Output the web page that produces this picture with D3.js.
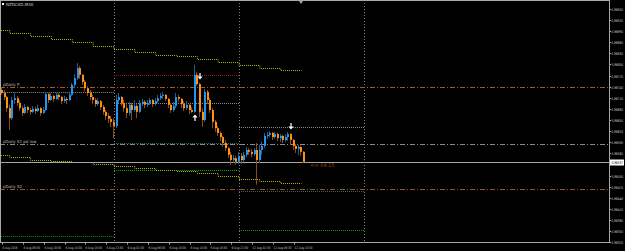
<!DOCTYPE html>
<html>
<head>
<meta charset="utf-8">
<script src="https://cdn.jsdelivr.net/npm/d3@7"></script>
<style>
html, body { margin: 0; padding: 0; background: #000; }
svg { display: block; }
text { font-family: "DejaVu Sans", sans-serif; }
</style>
</head>
<body>
<div id="chart"></div>
<script>
// NZDCAD M30 - bars numbered from 8 Aug 02:00 (bar 0), 30 min each
var symbol = "NZDCAD,M30";
var firstBar = 1;
var firstOpen = 0.86731;
var closes = [0.86723,0.86712,0.86682,0.86655,0.86704,0.86709,0.86696,0.86682,0.86669,0.86685,
  0.86677,0.86672,0.86680,0.86674,0.86682,0.86669,0.86677,0.86720,0.86704,0.86715,
  0.86707,0.86718,0.86712,0.86701,0.86707,0.86704,0.86718,0.86745,0.86763,0.86790,
  0.86772,0.86753,0.86736,0.86723,0.86712,0.86704,0.86693,0.86701,0.86685,0.86672,
  0.86661,0.86653,0.86645,0.86634,0.86704,0.86712,0.86696,0.86682,0.86669,0.86691,
  0.86677,0.86688,0.86672,0.86693,0.86699,0.86691,0.86696,0.86704,0.86693,0.86701,
  0.86709,0.86715,0.86718,0.86707,0.86691,0.86677,0.86688,0.86712,0.86707,0.86693,
  0.86682,0.86691,0.86677,0.86672,0.86772,0.86747,0.86672,0.86650,0.86726,0.86704,
  0.86677,0.86645,0.86628,0.86615,0.86604,0.86588,0.86574,0.86556,0.86542,0.86547,
  0.86537,0.86553,0.86542,0.86556,0.86569,0.86564,0.86558,0.86569,0.86542,0.86569,
  0.86580,0.86607,0.86610,0.86615,0.86604,0.86612,0.86601,0.86607,0.86596,0.86604,
  0.86612,0.86596,0.86580,0.86572,0.86577,0.86564,0.86537];
var highs = [0.86739,0.86731,0.86715,0.86691,0.86712,0.86723,0.86715,0.86704,0.86688,0.86693,
  0.86688,0.86682,0.86688,0.86685,0.86691,0.86685,0.86685,0.86726,0.86723,0.86723,
  0.86718,0.86723,0.86723,0.86715,0.86715,0.86712,0.86726,0.86750,0.86774,0.86804,
  0.86796,0.86774,0.86758,0.86742,0.86731,0.86718,0.86709,0.86709,0.86704,0.86691,
  0.86677,0.86669,0.86661,0.86655,0.86718,0.86723,0.86715,0.86704,0.86693,0.86699,
  0.86696,0.86704,0.86693,0.86704,0.86707,0.86704,0.86704,0.86709,0.86707,0.86709,
  0.86718,0.86723,0.86726,0.86720,0.86709,0.86696,0.86699,0.86723,0.86718,0.86709,
  0.86701,0.86701,0.86693,0.86685,0.86799,0.86780,0.86750,0.86682,0.86734,0.86731,
  0.86709,0.86682,0.86650,0.86634,0.86620,0.86607,0.86596,0.86577,0.86564,0.86556,
  0.86553,0.86564,0.86561,0.86564,0.86577,0.86574,0.86572,0.86574,0.86588,0.86583,
  0.86591,0.86615,0.86618,0.86620,0.86618,0.86618,0.86615,0.86612,0.86610,0.86612,
  0.86618,0.86615,0.86599,0.86585,0.86583,0.86580,0.86566];
var lows = [0.86718,0.86704,0.86672,0.86623,0.86650,0.86693,0.86688,0.86674,0.86661,0.86666,
  0.86669,0.86664,0.86669,0.86666,0.86672,0.86661,0.86666,0.86674,0.86696,0.86701,
  0.86699,0.86704,0.86704,0.86693,0.86696,0.86693,0.86701,0.86715,0.86736,0.86758,
  0.86761,0.86745,0.86728,0.86715,0.86704,0.86693,0.86685,0.86688,0.86677,0.86664,
  0.86650,0.86642,0.86631,0.86601,0.86628,0.86696,0.86688,0.86672,0.86655,0.86661,
  0.86650,0.86672,0.86655,0.86669,0.86688,0.86682,0.86685,0.86691,0.86685,0.86688,
  0.86696,0.86704,0.86707,0.86701,0.86682,0.86669,0.86672,0.86682,0.86699,0.86682,
  0.86674,0.86677,0.86666,0.86669,0.86669,0.86742,0.86658,0.86631,0.86645,0.86693,
  0.86669,0.86628,0.86618,0.86607,0.86593,0.86577,0.86566,0.86547,0.86529,0.86534,
  0.86529,0.86531,0.86531,0.86537,0.86550,0.86556,0.86550,0.86553,0.86475,0.86534,
  0.86556,0.86574,0.86599,0.86604,0.86596,0.86599,0.86593,0.86591,0.86588,0.86591,
  0.86593,0.86583,0.86569,0.86561,0.86556,0.86553,0.86534];

// H4 envelope steps (start bar of each 4h block)
var stepStarts = [-4,4,12,20,28,36,44,52,60,68,76,84,92,100,108];
var upperSteps = [0.86893,0.86884,0.86877,0.86868,0.86860,0.86850,0.86842,0.86834,0.86825,0.86822,0.86814,0.86806,0.86799,0.86791,0.86784];
var lowerSteps = [0.86556,0.86549,0.86543,0.86540,0.86536,0.86530,0.86525,0.86520,0.86516,0.86512,0.86506,0.86499,0.86490,0.86485,0.86479];

// day start bars: 9 Aug, 12 Aug, 13 Aug
var daySeparators = [44, 92, 140];
var dayRanges = [[-1, 44], [44, 92], [92, 140]];
var dayMid = [0.86726, 0.86696, 0.86631];
var dayGreen = [0.86337, 0.86515, 0.86353];
var dayTeal = [null, 0.86588, 0.86458];
var dayRed = [null, 0.86772, null];

var pivotNames = ["pDaily P", "pDaily S1 pd low", "pDaily S2"];
var pivotValues = [0.86739, 0.86585, 0.86464];
var pivotColors = ["#b0541c", "#8a8a8a", "#a8501c"];

var arrowBars = [75, 77, 112];
var arrowPrices = [0.86658, 0.86766, 0.86631];
var arrowDirs = ["up", "down", "down"];

var bidPrice = 0.86537;
var countdown = "04:15";

var priceTicks = [0.86950,0.86920,0.86890,0.86860,0.86830,0.86800,0.86770,0.86740,0.86710,0.86680,0.86650,
  0.86620,0.86590,0.86560,0.86530,0.86500,0.86470,0.86440,0.86410,0.86380,0.86350,0.86320];
var timeTickBars = [1, 9, 17, 25, 33, 41, 49, 57, 65, 73, 81, 89, 97, 105, 113];
var timeTickLabels = ["8 Aug 2019","8 Aug 06:30","8 Aug 10:30","8 Aug 14:30","8 Aug 18:30","8 Aug 22:30",
  "9 Aug 02:30","9 Aug 06:30","9 Aug 10:30","9 Aug 14:30","9 Aug 18:30","9 Aug 22:30",
  "12 Aug 02:30","12 Aug 06:30","12 Aug 10:30"];

var width = 625, height = 251;
var plotW = 609, plotH = 242;

var svg = d3.select("#chart").append("svg")
  .attr("width", width).attr("height", height)
  .style("background", "#000");

var x = d3.scaleLinear().domain([0, 140]).range([-0.6, 364]);
var y = d3.scaleLinear().domain([0.86320, 0.86950]).range([242.2, 8.9]);

var plot = svg.append("g");
plot.append("clipPath").attr("id", "clip")
  .append("rect").attr("x", 1).attr("y", 1).attr("width", plotW - 1).attr("height", plotH - 1);
var g = plot.append("g").attr("clip-path", "url(#clip)");

// day separators
g.selectAll("line.sep")
  .data(daySeparators)
  .enter().append("line")
    .attr("x1", function(d) { return Math.round(x(d)) + 0.5; })
    .attr("x2", function(d) { return Math.round(x(d)) + 0.5; })
    .attr("y1", 0).attr("y2", plotH)
    .attr("stroke", "#808080")
    .attr("stroke-dasharray", "1,2");

// pivot lines (dash-dot, full width)
pivotValues.forEach(function(v, i) {
  var yy = Math.round(y(v)) + 0.5;
  g.append("line")
    .attr("x1", 0).attr("x2", plotW)
    .attr("y1", yy).attr("y2", yy)
    .attr("stroke", pivotColors[i])
    .attr("stroke-dasharray", "5,2,1,2");
  g.append("text")
    .attr("x", 3).attr("y", yy - 1.5)
    .attr("font-size", 4)
    .attr("fill", "#b8b8b8")
    .text(pivotNames[i]);
});

// daily levels
function dayLine(values, color) {
  values.forEach(function(v, i) {
    if (v === null) return;
    var yy = Math.round(y(v)) + 0.5;
    g.append("line")
      .attr("x1", x(dayRanges[i][0])).attr("x2", x(dayRanges[i][1]))
      .attr("y1", yy).attr("y2", yy)
      .attr("stroke", color)
      .attr("stroke-dasharray", "1,1");
  });
}
dayLine(dayMid, "#8c8c8c");
dayLine(dayGreen, "#00a800");
dayLine(dayTeal, "#2e6e62");
dayLine(dayRed, "#a01818");

// H4 staircases
function stairs(vals, color) {
  var pts = [];
  stepStarts.forEach(function(s, i) {
    pts.push([x(s), Math.round(y(vals[i])) + 0.5]);
    pts.push([x(s + 8), Math.round(y(vals[i])) + 0.5]);
  });
  g.append("path")
    .attr("d", d3.line()(pts))
    .attr("fill", "none")
    .attr("stroke", color)
    .attr("stroke-dasharray", "1,1");
}
stairs(upperSteps, "#b4b41c");
stairs(lowerSteps, "#b4b41c");

// bid line
var bidY = Math.round(y(bidPrice)) + 0.5;
g.append("line")
  .attr("x1", 0).attr("x2", plotW)
  .attr("y1", bidY).attr("y2", bidY)
  .attr("stroke", "#a8a8a8");

// candles
var bars = closes.map(function(c, k) {
  return {
    i: firstBar + k,
    o: k === 0 ? firstOpen : closes[k - 1],
    h: highs[k], l: lows[k], c: c
  };
});
var upCol = "#2196f3", dnCol = "#ff9010";
var cg = g.selectAll("g.bar").data(bars).enter().append("g");
cg.append("line")
  .attr("x1", function(d) { return Math.round(x(d.i)) - 0.5; })
  .attr("x2", function(d) { return Math.round(x(d.i)) - 0.5; })
  .attr("y1", function(d) { return y(d.h); })
  .attr("y2", function(d) { return y(d.l); })
  .attr("stroke", function(d) { return d.c >= d.o ? "#1f5f96" : "#8a4e12"; });
cg.append("rect")
  .attr("x", function(d) { return Math.round(x(d.i)) - 1; })
  .attr("width", 2)
  .attr("y", function(d) { return y(Math.max(d.o, d.c)); })
  .attr("height", function(d) { return Math.max(1, Math.abs(y(d.o) - y(d.c))); })
  .attr("fill", function(d) { return d.c >= d.o ? upCol : dnCol; });

// signal arrows
arrowBars.forEach(function(b, i) {
  var cx = Math.round(x(b)), cy = y(arrowPrices[i]);
  var d = arrowDirs[i] === "down"
    ? "M" + (cx - 0.6) + "," + (cy - 4) + "h1.2v3.5h2l-2.6,3l-2.6,-3h2z"
    : "M" + (cx - 0.6) + "," + (cy + 4) + "h1.2v-3.5h2l-2.6,-3l-2.6,3h2z";
  g.append("path").attr("d", d).attr("fill", "#ffffff");
});

// countdown
g.append("text")
  .attr("x", x(closes.length + firstBar + 1) + 1)
  .attr("y", bidY + 4.5)
  .attr("font-size", 5)
  .attr("fill", "#9a4a16")
  .text("<< " + countdown);

// title
svg.append("rect").attr("x", 2).attr("y", 3).attr("width", 2).attr("height", 2).attr("fill", "#fff");
svg.append("text").attr("x", 6).attr("y", 6).attr("font-size", 4).attr("fill", "#d0d0d0").text(symbol);

// shift marker
svg.append("path").attr("d", "M299,1h4l-2,3z").attr("fill", "#a0a0a0");

// frame
svg.append("rect")
  .attr("x", 0.5).attr("y", 0.5)
  .attr("width", plotW).attr("height", plotH)
  .attr("fill", "none")
  .attr("stroke", "#a8a8a8");

// price axis (the tick hidden under the bid box is skipped, as in the terminal)
var pa = svg.append("g");
priceTicks.forEach(function(t) {
  var yy = Math.round(y(t)) + 0.5;
  pa.append("line").attr("x1", plotW).attr("x2", plotW + 2).attr("y1", yy).attr("y2", yy).attr("stroke", "#a8a8a8");
  if (Math.abs(yy - bidY) < 6) return;
  pa.append("text").attr("x", plotW + 2.5).attr("y", yy + 1.3)
    .attr("font-size", 3.6).attr("fill", "#c8c8c8")
    .attr("textLength", 11.5).attr("lengthAdjust", "spacingAndGlyphs")
    .text(t.toFixed(5));
});
// bid box
pa.append("rect").attr("x", plotW + 1).attr("y", bidY - 3).attr("width", 14).attr("height", 6).attr("fill", "#ffffff");
pa.append("text").attr("x", plotW + 2.5).attr("y", bidY + 1.3)
  .attr("font-size", 3.6).attr("fill", "#000")
  .attr("textLength", 11.5).attr("lengthAdjust", "spacingAndGlyphs")
  .text(bidPrice.toFixed(5));

// time axis
var ta = svg.append("g");
timeTickBars.forEach(function(b, i) {
  var xx = Math.round(x(b)) + 0.5;
  ta.append("line").attr("x1", xx).attr("x2", xx).attr("y1", plotH).attr("y2", plotH + 2.5).attr("stroke", "#a8a8a8");
  ta.append("text").attr("x", xx).attr("y", plotH + 6.5)
    .attr("font-size", 3.4).attr("fill", "#c8c8c8")
    .attr("textLength", timeTickLabels[i].length * 1.5).attr("lengthAdjust", "spacingAndGlyphs")
    .text(timeTickLabels[i]);
});
</script>
</body>
</html>
